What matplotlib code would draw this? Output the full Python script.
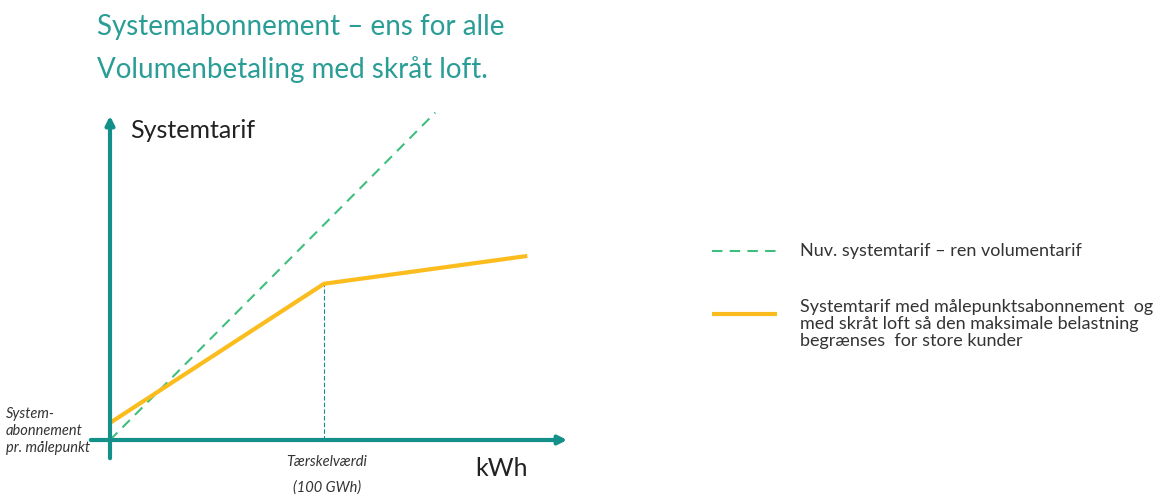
import numpy as np
import matplotlib
matplotlib.use("Agg")
import matplotlib.pyplot as plt

# Data (x in GWh, y in arbitrary tariff units)
green_x = [0, 152]
green_y = [0, 153]
orange_x = [0, 100, 195]
orange_y = [8, 73, 86]
threshold = 100

teal = "#14908a"
green = "#3fbf7f"
orange = "#fbbc1e"

plt.rcParams['font.family'] = ['Lato', 'DejaVu Sans']

fig = plt.figure(figsize=(11.75, 4.95), dpi=100)
ax = fig.add_axes([0, 0, 1, 1])
s = 2.14  # px per unit
ax.set_xlim(-110 / s, (1175 - 110) / s)
ax.set_ylim((440 - 495) / s, 440 / s)
ax.axis('off')

# axes arrows
ax.annotate('', xy=(0, (440 - 113) / s), xytext=(0, (440 - 461) / s),
            arrowprops=dict(arrowstyle='-|>,head_width=0.25,head_length=0.5',
                            color=teal, lw=3))
ax.annotate('', xy=((570 - 110) / s, 0), xytext=((88 - 110) / s, 0),
            arrowprops=dict(arrowstyle='-|>,head_width=0.25,head_length=0.5',
                            color=teal, lw=3))

# threshold line
ax.plot([threshold, threshold], [0, orange_y[1]], color=teal, lw=0.8,
        ls=(0, (4, 2)))

ax.plot(green_x, green_y, color=green, lw=1.5, ls=(0, (5, 3.5)))
ax.plot(orange_x, orange_y, color=orange, lw=3, solid_capstyle='butt')

def px(x, y):
    return ((x - 110) / s, (440 - y) / s)

ax.text(*px(97, 27), "Systemabonnement – ens for alle", color="#2a9d96",
        fontsize=20, va='center', ha='left')
ax.text(*px(97, 70), "Volumenbetaling med skråt loft.", color="#2a9d96",
        fontsize=20, va='center', ha='left')
ax.text(*px(130, 130), "Systemtarif", color="#222222", fontsize=18,
        va='center', ha='left')
ax.text(*px(475, 469), "kWh", color="#222222", fontsize=18,
        va='center', ha='left')
ax.text(*px(327, 462), "Tærskelværdi", color="#333333", fontsize=10.5,
        va='center', ha='center', style='italic')
ax.text(*px(327, 488), "(100 GWh)", color="#333333", fontsize=10.5,
        va='center', ha='center', style='italic')
ax.text(*px(6, 431), "System-\nabonnement\npr. målepunkt", color="#333333",
        fontsize=10.5, va='center', ha='left', style='italic', linespacing=1.3)

# legend
ax.plot([(712 - 110) / s, (777 - 110) / s], [(440 - 251) / s] * 2,
        color=green, lw=1.5, ls=(0, (5, 3.5)))
ax.plot([(712 - 110) / s, (777 - 110) / s], [(440 - 314) / s] * 2,
        color=orange, lw=3, solid_capstyle='butt')
ax.text(*px(800, 251), "Nuv. systemtarif – ren volumentarif", color="#333333",
        fontsize=13, va='center', ha='left')
ax.text(*px(800, 324), "Systemtarif med målepunktsabonnement  og\nmed skråt loft så den maksimale belastning\nbegrænses  for store kunder",
        color="#333333", fontsize=13, va='center', ha='left', linespacing=1.05)

fig.savefig("out.png", dpi=100)
